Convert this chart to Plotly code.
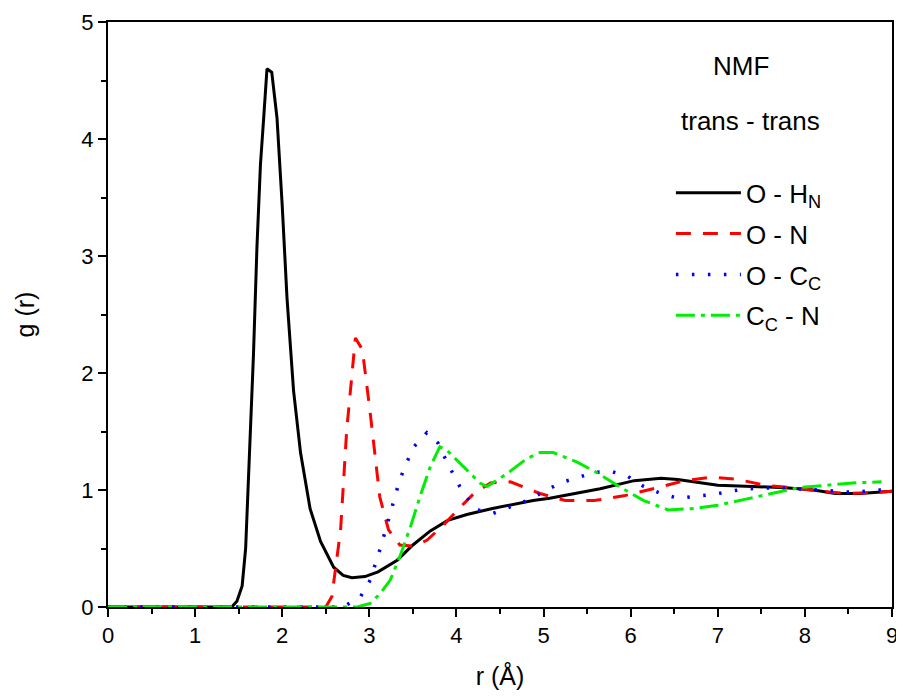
import plotly.graph_objects as go

# O - H_N
x_ohn = [0, 1.0, 1.42, 1.48, 1.54, 1.58, 1.63, 1.67, 1.71, 1.75, 1.79, 1.825, 1.88, 1.94, 2.0, 2.055,
         2.13, 2.21, 2.32, 2.44, 2.59, 2.7, 2.8, 2.95, 3.1, 3.32, 3.5, 3.7, 3.9, 4.12, 4.4, 4.88,
         5.07, 5.3, 5.65, 6.04, 6.35, 6.54, 7.0, 7.4, 7.78, 8.1, 8.35, 8.63, 9.0]
y_ohn = [0, 0, 0, 0.05, 0.18, 0.5, 1.38, 2.16, 3.08, 3.78, 4.21, 4.6, 4.57, 4.18, 3.43, 2.64,
         1.85, 1.32, 0.84, 0.56, 0.34, 0.27, 0.25, 0.26, 0.3, 0.4, 0.53, 0.65, 0.74, 0.79, 0.84, 0.91,
         0.93, 0.96, 1.01, 1.08, 1.10, 1.09, 1.04, 1.03, 1.02, 1.0, 0.97, 0.97, 0.99]

# O - N
x_on = [0, 2.5, 2.57, 2.67, 2.74, 2.84, 2.92, 3.01, 3.12, 3.22, 3.35, 3.5, 3.66, 3.85, 4.04, 4.2,
        4.39, 4.62, 4.96, 5.25, 5.58, 5.92, 6.31, 6.62, 6.93, 7.23, 7.54, 7.85, 8.16, 8.47, 8.85, 9.0]
y_on = [0, 0, 0.09, 0.66, 1.51, 2.3, 2.2, 1.66, 0.94, 0.66, 0.53, 0.52, 0.57, 0.7, 0.85, 0.97,
        1.06, 1.07, 0.97, 0.91, 0.91, 0.95, 1.02, 1.08, 1.11, 1.09, 1.04, 1.02, 0.99, 0.97, 0.98, 0.99]

# O - C_C
x_occ = [0, 2.7, 2.9, 3.01, 3.13, 3.24, 3.35, 3.5, 3.66, 3.79, 3.89, 4.08, 4.24, 4.42, 4.81, 5.19,
         5.58, 5.77, 5.96, 6.15, 6.35, 6.54, 6.93, 7.31, 7.7, 8.16, 8.55, 8.86, 9.0]
y_occ = [0, 0, 0.09, 0.23, 0.51, 0.8, 1.09, 1.36, 1.49, 1.40, 1.24, 0.97, 0.83, 0.8, 0.91, 1.06,
         1.15, 1.16, 1.12, 1.03, 0.97, 0.93, 0.96, 1.01, 1.02, 1.0, 0.98, 1.0, 1.0]

# C_C - N
x_ccn = [0, 2.86, 3.01, 3.13, 3.24, 3.35, 3.47, 3.58, 3.7, 3.81, 3.89, 4.04, 4.27, 4.35, 4.58, 4.81,
         4.96, 5.11, 5.38, 5.61, 5.89, 6.15, 6.43, 6.7, 7.0, 7.31, 7.62, 7.93, 8.24, 8.55, 8.88]
y_ccn = [0, 0, 0.03, 0.12, 0.23, 0.43, 0.68, 0.94, 1.2, 1.37, 1.34, 1.23, 1.06, 1.03, 1.14, 1.27,
         1.32, 1.32, 1.24, 1.15, 1.02, 0.91, 0.83, 0.84, 0.87, 0.92, 0.97, 1.02, 1.04, 1.06, 1.07]

series_names = ["O - H<sub>N</sub>", "O - N", "O - C<sub>C</sub>", "C<sub>C</sub> - N"]
x_ticks = [0, 1, 2, 3, 4, 5, 6, 7, 8, 9]
y_ticks = [0, 1, 2, 3, 4, 5]

FONT = "Liberation Sans, Arial, sans-serif"

fig = go.Figure()
fig.add_trace(go.Scatter(x=x_ohn, y=y_ohn, mode="lines", name=series_names[0], legendgroup="a",
                         line=dict(color="black", width=3)))
fig.add_trace(go.Scatter(x=x_on, y=y_on, mode="lines", name=series_names[1], legendgroup="b",
                         line=dict(color="#ff0000", width=3, dash="15px,12px")))
fig.add_trace(go.Scatter(x=x_occ, y=y_occ, mode="lines", name=series_names[2], legendgroup="c",
                         line=dict(color="#0000ff", width=3.5, dash="2.5px,13.5px")))
fig.add_trace(go.Scatter(x=x_ccn, y=y_ccn, mode="lines", name=series_names[3], legendgroup="d",
                         line=dict(color="#00ee00", width=3, dash="19px,6px,4px,6px")))

axis_common = dict(
    showline=True, linecolor="black", linewidth=2, mirror=True,
    ticks="outside", ticklen=8, tickwidth=2, tickcolor="black",
    showgrid=False, zeroline=False, automargin=False,
    tickfont=dict(family=FONT, size=22, color="black"),
)

fig.update_xaxes(range=[0, 9], tickvals=x_ticks, **axis_common,
                 minor=dict(dtick=0.5, ticks="outside", ticklen=5, tickwidth=2, tickcolor="black"),
                 title=dict(text="r (Å)", font=dict(family=FONT, size=25, color="black"), standoff=20))
fig.update_yaxes(range=[0, 5], tickvals=y_ticks, **axis_common,
                 minor=dict(dtick=0.5, ticks="outside", ticklen=5, tickwidth=2, tickcolor="black"),
                 title=dict(text="g (r)", font=dict(family=FONT, size=25, color="black"), standoff=40))

fig.add_annotation(x=7.27, y=4.62, text="NMF", showarrow=False,
                   font=dict(family=FONT, size=26, color="black"))
fig.add_annotation(x=7.37, y=4.15, text="trans - trans", showarrow=False,
                   font=dict(family=FONT, size=26, color="black"))

# page body has an 8px margin; compensate so the plot area lands where the reference has it
fig.update_layout(
    width=896, height=692,
    margin=dict(l=99.5, r=12, t=14, b=93),
    paper_bgcolor="white", plot_bgcolor="white",
    showlegend=True,
    legend=dict(x=0.718, y=0.748, xanchor="left", yanchor="top",
                bgcolor="rgba(0,0,0,0)", borderwidth=0,
                font=dict(family=FONT, size=26, color="black"),
                tracegroupgap=4, itemwidth=65),
)

fig.write_html("out.html")
